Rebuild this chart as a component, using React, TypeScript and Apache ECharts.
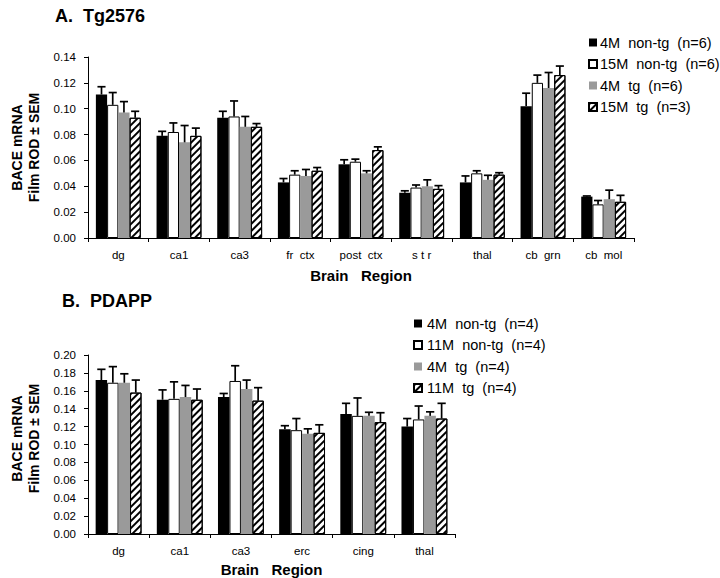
import React, { useEffect, useRef } from "react";
import * as echarts from "echarts";

const FONT = "Liberation Sans, Arial, sans-serif";

// Panel A: Tg2576
const categoriesA = ["dg", "ca1", "ca3", "fr  ctx", "post  ctx", "s t r", "thal", "cb  grn", "cb  mol"];
const namesA = ["4M  non-tg  (n=6)", "15M  non-tg  (n=6)", "4M  tg  (n=6)", "15M  tg  (n=3)"];
const a4NonTg = [0.111, 0.079, 0.093, 0.043, 0.057, 0.035, 0.043, 0.102, 0.032];
const a15NonTg = [0.103, 0.082, 0.094, 0.049, 0.059, 0.039, 0.05, 0.12, 0.026];
const a4Tg = [0.097, 0.074, 0.086, 0.048, 0.05, 0.04, 0.045, 0.116, 0.03];
const a15Tg = [0.093, 0.079, 0.086, 0.052, 0.068, 0.038, 0.049, 0.126, 0.028];
const a4NonTgErr = [0.006, 0.0035, 0.005, 0.003, 0.0035, 0.0015, 0.005, 0.01, 0.0005];
const a15NonTgErr = [0.0095, 0.007, 0.012, 0.003, 0.002, 0.002, 0.002, 0.006, 0.003];
const a4TgErr = [0.0085, 0.013, 0.008, 0.005, 0.002, 0.005, 0.0035, 0.012, 0.007];
const a15TgErr = [0.005, 0.006, 0.0025, 0.0025, 0.0025, 0.0025, 0.0015, 0.007, 0.005];

// Panel B: PDAPP
const categoriesB = ["dg", "ca1", "ca3", "erc", "cing", "thal"];
const namesB = ["4M  non-tg  (n=4)", "11M  non-tg  (n=4)", "4M  tg  (n=4)", "11M  tg  (n=4)"];
const b4NonTg = [0.172, 0.15, 0.153, 0.117, 0.134, 0.12];
const b11NonTg = [0.169, 0.151, 0.171, 0.116, 0.132, 0.128];
const b4Tg = [0.169, 0.153, 0.162, 0.112, 0.132, 0.132];
const b11Tg = [0.158, 0.15, 0.149, 0.113, 0.125, 0.129];
const b4NonTgErr = [0.012, 0.011, 0.004, 0.004, 0.012, 0.009];
const b11NonTgErr = [0.018, 0.019, 0.017, 0.013, 0.02, 0.015];
const b4TgErr = [0.01, 0.013, 0.01, 0.0055, 0.004, 0.0045];
const b11TgErr = [0.014, 0.012, 0.0145, 0.009, 0.0105, 0.017];

const yTicksA = { min: 0, max: 0.14, interval: 0.02 };
const yTicksB = { min: 0, max: 0.2, interval: 0.02 };

const hatchDecal = {
  symbol: "rect",
  symbolSize: 1,
  dashArrayX: [[1, 0]],
  dashArrayY: [1.3, 2.1],
  rotation: -Math.PI / 4,
  color: "#000",
  backgroundColor: "#fff",
};

const styles = [
  { color: "#000" },
  { color: "#fff", borderColor: "#000", borderWidth: 1 },
  { color: "#9a9a9a" },
  { color: "#fff", borderColor: "#000", borderWidth: 1, decal: hatchDecal },
];

function errorSeries(
  gridIdx: number,
  values: number[][],
  errs: number[][],
  gapFrac: number
) {
  const data: number[][] = [];
  values.forEach((vals, s) => {
    vals.forEach((v, c) => {
      data.push([c, v, s, errs[s][c]]);
    });
  });
  return {
    type: "custom",
    xAxisIndex: gridIdx,
    yAxisIndex: gridIdx,
    z: 5,
    silent: true,
    encode: { x: 0, y: 1 },
    data,
    renderItem: (params: any, api: any) => {
      const c = api.value(0);
      const v = api.value(1);
      const s = api.value(2);
      const e = api.value(3);
      const base = api.coord([c, v]);
      const top = api.coord([c, v + e]);
      const catW = api.size([1, 0])[0];
      const bw = (catW * (1 - gapFrac)) / 4;
      const x = base[0] + (s - 1.5) * bw;
      const cap = bw * 0.36;
      const st = { stroke: "#000", lineWidth: 1.7 };
      return {
        type: "group",
        children: [
          { type: "line", shape: { x1: x, y1: base[1], x2: x, y2: top[1] }, style: st },
          { type: "line", shape: { x1: x - cap, y1: top[1], x2: x + cap, y2: top[1] }, style: st },
        ],
      };
    },
  };
}

export default function App() {
  const ref = useRef<HTMLDivElement>(null);
  useEffect(() => {
    if (!ref.current) return;
    const chart = echarts.init(ref.current, null, { renderer: "svg" });
    const valsA = [a4NonTg, a15NonTg, a4Tg, a15Tg];
    const errsA = [a4NonTgErr, a15NonTgErr, a4TgErr, a15TgErr];
    const valsB = [b4NonTg, b11NonTg, b4Tg, b11Tg];
    const errsB = [b4NonTgErr, b11NonTgErr, b4TgErr, b11TgErr];
    const gapA = 0.26;
    const gapB = 0.25;

    const xAxisCommon = (cats: string[], gridIndex: number, nameGap: number) => ({
      type: "category",
      gridIndex,
      data: cats,
      name: "Brain   Region",
      nameLocation: "middle",
      nameGap,
      nameTextStyle: { fontFamily: FONT, fontWeight: "bold", fontSize: 15, color: "#000" },
      axisLine: { lineStyle: { color: "#000", width: 1 } },
      axisTick: { show: true, length: 4, lineStyle: { color: "#000" } },
      axisLabel: { fontFamily: FONT, fontSize: 11.5, color: "#000", margin: 11 },
      splitLine: { show: false },
    });
    const yAxisCommon = (t: any, gridIndex: number, pad: number[]) => ({
      type: "value",
      gridIndex,
      min: t.min,
      max: t.max,
      interval: t.interval,
      name: "BACE mRNA\nFilm ROD ± SEM",
      nameLocation: "middle",
      nameRotate: 90,
      nameGap: 46,
      nameTextStyle: {
        fontFamily: FONT,
        fontWeight: "bold",
        fontSize: 14,
        color: "#000",
        lineHeight: 17,
        padding: pad,
      },
      axisLine: { show: true, lineStyle: { color: "#000", width: 1 } },
      axisTick: { show: true, length: 4, lineStyle: { color: "#000" } },
      axisLabel: {
        fontFamily: FONT,
        fontSize: 11.5,
        color: "#000",
        margin: 12,
        formatter: (v: number) => v.toFixed(2),
      },
      splitLine: { show: false },
    });

    const barSeries = (names: string[], vals: number[][], gridIdx: number, gap: number) =>
      names.map((n, i) => ({
        type: "bar",
        name: n,
        xAxisIndex: gridIdx,
        yAxisIndex: gridIdx,
        data: vals[i],
        barGap: "0%",
        barCategoryGap: `${gap * 100}%`,
        itemStyle: styles[i],
        z: 2,
      }));

    const legendCommon = {
      orient: "vertical",
      icon: "rect",
      itemWidth: 8,
      itemHeight: 8,
      itemGap: 6.5,
      selectedMode: false,
    };

    chart.setOption({
      animation: false,
      backgroundColor: "#fff",
      title: [
        {
          text: "A.  Tg2576",
          left: 50,
          top: 2,
          textStyle: { fontFamily: FONT, fontWeight: "bold", fontSize: 18, color: "#000" },
        },
        {
          text: "B.  PDAPP",
          left: 57,
          top: 287,
          textStyle: { fontFamily: FONT, fontWeight: "bold", fontSize: 18, color: "#000" },
        },
      ],
      legend: [
        {
          ...legendCommon,
          left: 583,
          top: 30,
          data: namesA,
          textStyle: {
            fontFamily: FONT,
            fontSize: 14.5,
            color: "#000",
            lineHeight: 14,
            padding: [0, 0, 0, -2],
          },
        },
        {
          ...legendCommon,
          left: 408,
          top: 311,
          data: namesB,
          textStyle: { fontFamily: FONT, fontSize: 14.5, color: "#000", lineHeight: 14 },
        },
      ],
      grid: [
        { left: 75, top: 57, width: 559, height: 181 },
        { left: 77, top: 355, width: 378, height: 179 },
      ],
      xAxis: [xAxisCommon(categoriesA, 0, 30), xAxisCommon(categoriesB, 1, 28)],
      yAxis: [yAxisCommon(yTicksA, 0, [0, 0, 0, 0]), yAxisCommon(yTicksB, 1, [0, 0, 0, 12])],
      series: [
        ...barSeries(namesA, valsA, 0, gapA),
        ...barSeries(namesB, valsB, 1, gapB),
        errorSeries(0, valsA, errsA, gapA),
        errorSeries(1, valsB, errsB, gapB),
      ],
    });
    return () => chart.dispose();
  }, []);
  return (
    <div
      ref={ref}
      style={{ position: "absolute", left: 0, top: 0, width: 720, height: 578, background: "#fff" }}
    />
  );
}
